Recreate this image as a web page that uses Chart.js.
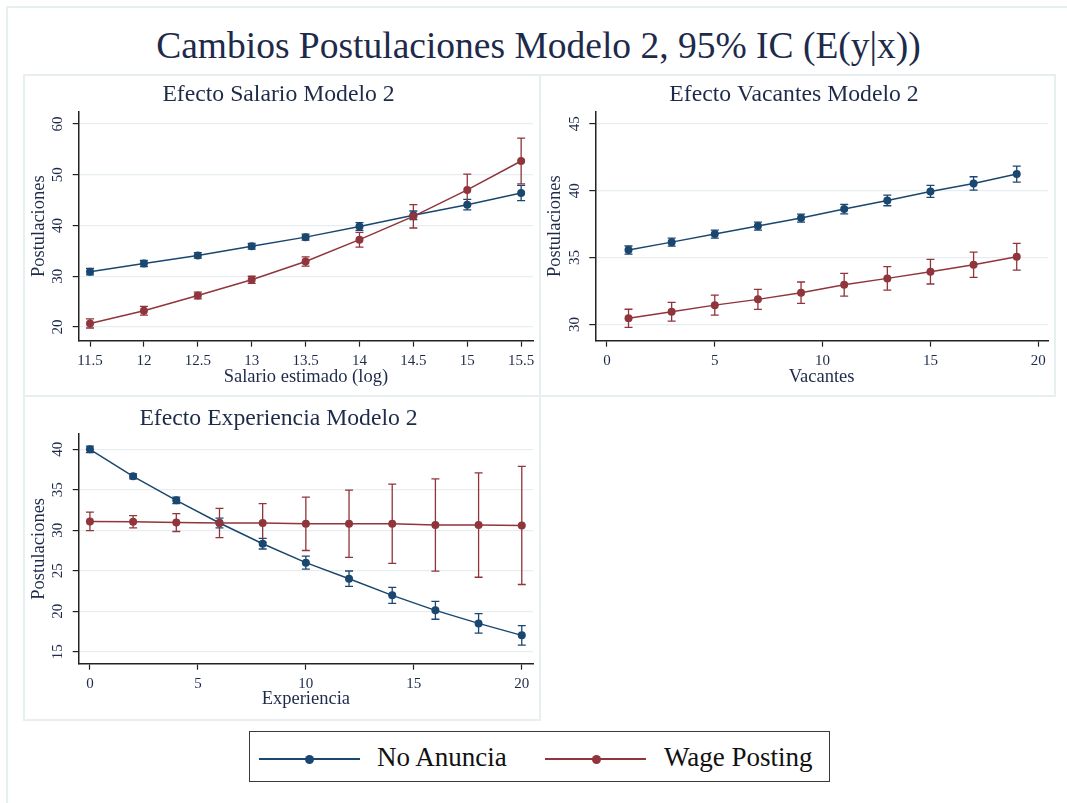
<!DOCTYPE html>
<html lang="es">
<head>
<meta charset="UTF-8">
<title>Cambios Postulaciones Modelo 2</title>
<script src="https://cdn.jsdelivr.net/npm/chart.js"></script>
<style>
    body {
        margin: 0;
        width: 1067px;
        height: 803px;
        background: #fff;
        position: relative;
        overflow: hidden;
        font-family: "Liberation Serif", "Times New Roman", serif;
    }
    .frame {
        position: absolute;
        box-sizing: border-box;
        border: 2px solid #e8eff1;
    }
    canvas { position: absolute; }
    #titulo {
        position: absolute;
        left: 0;
        width: 1077px;
        top: 26px;
        line-height: 40px;
        text-align: center;
        font-size: 37.5px;
        color: #1e2a4a;
        white-space: nowrap;
    }
    #leyenda {
        position: absolute;
        left: 249px;
        top: 731px;
        width: 581px;
        height: 51px;
        box-sizing: border-box;
        border: 1.5px solid #3a3a3a;
    }
    .ley-linea { position: absolute; height: 2px; top: 26px; }
    .ley-punto { position: absolute; width: 9px; height: 9px; border-radius: 50%; top: 22.5px; }
    .ley-texto { position: absolute; top: 5px; font-size: 27px; line-height: 40px; color: #111; white-space: nowrap; }
</style>
</head>
<body>
<div class="frame" style="left:6px; top:6px; width:1080px; height:820px;"></div>
<div class="frame" style="left:23px; top:74px; width:518px; height:323px;"></div>
<div class="frame" style="left:539px; top:74px; width:517px; height:323px;"></div>
<div class="frame" style="left:23px; top:395px; width:518px; height:326px;"></div>

<div id="titulo">Cambios Postulaciones Modelo 2, 95% IC (E(y|x))</div>

<canvas id="salario" width="516" height="320" style="left:24px; top:75px;"></canvas>
<canvas id="vacantes" width="515" height="320" style="left:540px; top:75px;"></canvas>
<canvas id="experiencia" width="516" height="324" style="left:24px; top:396px;"></canvas>

<div id="leyenda">
    <div class="ley-linea" style="left:9px; width:101px; background:#1a476f;"></div>
    <div class="ley-punto" style="left:55px; background:#1a476f;"></div>
    <div class="ley-texto" style="left:127px;">No Anuncia</div>
    <div class="ley-linea" style="left:295px; width:101px; background:#90353b;"></div>
    <div class="ley-punto" style="left:342px; background:#90353b;"></div>
    <div class="ley-texto" style="left:414px;">Wage Posting</div>
</div>

<script>
// Salario estimado (log)
const salarioX = [11.5, 12, 12.5, 13, 13.5, 14, 14.5, 15, 15.5];
const salarioNoAnuncia = [30.9, 32.5, 34.1, 35.9, 37.7, 39.8, 42.0, 44.1, 46.4];
const salarioNoAnunciaIC = [0.65, 0.6, 0.55, 0.55, 0.6, 0.75, 0.85, 1.05, 1.5];
const salarioWage = [20.7, 23.2, 26.2, 29.3, 32.9, 37.2, 41.8, 47.0, 52.7];
const salarioWageIC = [0.9, 0.85, 0.65, 0.7, 0.9, 1.45, 2.3, 3.1, 4.5];
const salarioTicksX = [11.5, 12, 12.5, 13, 13.5, 14, 14.5, 15, 15.5];
const salarioTicksY = [20, 30, 40, 50, 60];

// Vacantes
const vacantesX = [1, 3, 5, 7, 9, 11, 13, 15, 17, 19];
const vacantesNoAnuncia = [35.56, 36.15, 36.75, 37.35, 37.95, 38.62, 39.27, 39.94, 40.54, 41.24];
const vacantesNoAnunciaIC = [0.3, 0.3, 0.3, 0.3, 0.3, 0.35, 0.4, 0.45, 0.5, 0.6];
const vacantesWage = [30.45, 30.95, 31.44, 31.87, 32.37, 32.96, 33.44, 33.94, 34.46, 35.06];
const vacantesWageIC = [0.68, 0.7, 0.75, 0.75, 0.8, 0.85, 0.88, 0.92, 0.95, 1.0];
const vacantesTicksX = [0, 5, 10, 15, 20];
const vacantesTicksY = [30, 35, 40, 45];

// Experiencia
const experienciaX = [0, 2, 4, 6, 8, 10, 12, 14, 16, 18, 20];
const experienciaNoAnuncia = [40.0, 36.66, 33.7, 30.9, 28.34, 26.0, 24.02, 21.96, 20.11, 18.5, 17.02];
const experienciaNoAnunciaIC = [0.4, 0.3, 0.4, 0.6, 0.65, 0.8, 0.95, 1.0, 1.1, 1.2, 1.2];
const experienciaWage = [31.1, 31.05, 30.95, 30.9, 30.9, 30.8, 30.8, 30.8, 30.65, 30.65, 30.6];
const experienciaWageIC = [1.15, 0.75, 1.1, 1.8, 2.4, 3.3, 4.15, 4.9, 5.7, 6.45, 7.3];
const experienciaTicksX = [0, 5, 10, 15, 20];
const experienciaTicksY = [15, 20, 25, 30, 35, 40];

const AZUL = '#1a476f';
const ROJO = '#90353b';
const TEXTO = '#1e2a4a';
const EJE = '#222';
const GRILLA = '#e6eef1';
const SERIF = "'Liberation Serif', 'Times New Roman', serif";

// barras de intervalo de confianza (rcap)
const barrasIC = {
    id: 'barrasIC',
    beforeDatasetsDraw(chart) {
        const ctx = chart.ctx;
        const sx = chart.scales.x, sy = chart.scales.y;
        chart.data.datasets.forEach(ds => {
            if (!ds.ic) return;
            ctx.save();
            ctx.strokeStyle = ds.borderColor;
            ctx.lineWidth = 1.3;
            ds.data.forEach((p, j) => {
                const px = sx.getPixelForValue(p.x);
                const hi = sy.getPixelForValue(p.y + ds.ic[j]);
                const lo = sy.getPixelForValue(p.y - ds.ic[j]);
                ctx.beginPath();
                ctx.moveTo(px, hi); ctx.lineTo(px, lo);
                ctx.moveTo(px - 4, hi); ctx.lineTo(px + 4, hi);
                ctx.moveTo(px - 4, lo); ctx.lineTo(px + 4, lo);
                ctx.stroke();
            });
            ctx.restore();
        });
    }
};

function serie(label, xs, ys, ic, color, order) {
    return {
        label: label,
        data: xs.map((x, i) => ({ x: x, y: ys[i] })),
        ic: ic,
        borderColor: color,
        backgroundColor: color,
        borderWidth: 1.5,
        pointRadius: 4,
        pointBorderWidth: 0,
        pointBackgroundColor: color,
        tension: 0,
        order: order
    };
}

function panel(id, p) {
    return new Chart(document.getElementById(id), {
        type: 'line',
        data: {
            datasets: [
                serie('No Anuncia', p.x, p.azul, p.azulIC, AZUL, 1),
                serie('Wage Posting', p.x, p.rojo, p.rojoIC, ROJO, 0)
            ]
        },
        options: {
            responsive: false,
            animation: false,
            devicePixelRatio: 1,
            layout: { padding: { left: 0, right: 7, top: 0, bottom: 0 } },
            plugins: {
                legend: { display: false },
                tooltip: { enabled: false },
                title: {
                    display: true,
                    text: p.titulo,
                    color: TEXTO,
                    font: { family: SERIF, size: 23.7, weight: 'normal' },
                    padding: { top: p.tituloArriba, bottom: p.tituloAbajo }
                }
            },
            scales: {
                x: {
                    type: 'linear',
                    min: p.xMin,
                    max: p.xMax,
                    afterBuildTicks: s => { s.ticks = p.ticksX.map(v => ({ value: v })); },
                    afterFit: s => { s.height = p.altoX; },
                    grid: { drawOnChartArea: false, tickLength: 6, tickColor: EJE, tickWidth: 1.2 },
                    border: { color: EJE, width: 1.5 },
                    ticks: {
                        color: TEXTO, padding: 5, autoSkip: false, minRotation: 0, maxRotation: 0,
                        font: { family: SERIF, size: 15 },
                        callback: v => String(v)
                    },
                    title: {
                        display: true, text: p.etiquetaX, color: TEXTO,
                        font: { family: SERIF, size: 18.5 },
                        padding: { top: 0, bottom: p.etiquetaXAbajo }
                    }
                },
                y: {
                    type: 'linear',
                    min: p.yMin,
                    max: p.yMax,
                    afterBuildTicks: s => { s.ticks = p.ticksY.map(v => ({ value: v })); },
                    afterFit: s => { s.width = p.anchoY; },
                    grid: { color: GRILLA, lineWidth: 1.2, tickLength: 6, tickColor: EJE, tickWidth: 1.2 },
                    border: { color: EJE, width: 1.5 },
                    ticks: {
                        color: TEXTO, padding: 7, minRotation: 90, maxRotation: 90, crossAlign: 'center',
                        font: { family: SERIF, size: 15 },
                        callback: v => String(v)
                    },
                    title: {
                        display: true, text: 'Postulaciones', color: TEXTO,
                        font: { family: SERIF, size: 18.5 },
                        padding: { top: p.etiquetaYArriba, bottom: 0 }
                    }
                }
            }
        },
        plugins: [barrasIC]
    });
}

panel('salario', {
    titulo: 'Efecto Salario Modelo 2', etiquetaX: 'Salario estimado (log)',
    x: salarioX, azul: salarioNoAnuncia, azulIC: salarioNoAnunciaIC, rojo: salarioWage, rojoIC: salarioWageIC,
    ticksX: salarioTicksX, ticksY: salarioTicksY,
    xMin: 11.395, xMax: 15.61, yMin: 17.3, yMax: 62.4,
    tituloArriba: 5.8, tituloAbajo: 2.5, altoX: 54.3, etiquetaXAbajo: 7.2, anchoY: 54.7, etiquetaYArriba: 4
});

panel('vacantes', {
    titulo: 'Efecto Vacantes Modelo 2', etiquetaX: 'Vacantes',
    x: vacantesX, azul: vacantesNoAnuncia, azulIC: vacantesNoAnunciaIC, rojo: vacantesWage, rojoIC: vacantesWageIC,
    ticksX: vacantesTicksX, ticksY: vacantesTicksY,
    xMin: -0.54, xMax: 20.45, yMin: 28.78, yMax: 45.9,
    tituloArriba: 5.8, tituloAbajo: 2.5, altoX: 54.3, etiquetaXAbajo: 7.2, anchoY: 55.3, etiquetaYArriba: 4.5
});

panel('experiencia', {
    titulo: 'Efecto Experiencia Modelo 2', etiquetaX: 'Experiencia',
    x: experienciaX, azul: experienciaNoAnuncia, azulIC: experienciaNoAnunciaIC, rojo: experienciaWage, rojoIC: experienciaWageIC,
    ticksX: experienciaTicksX, ticksY: experienciaTicksY,
    xMin: -0.52, xMax: 20.52, yMin: 13.52, yMax: 41.9,
    tituloArriba: 8.5, tituloAbajo: 1.0, altoX: 56.3, etiquetaXAbajo: 9.9, anchoY: 54.7, etiquetaYArriba: 4
});
</script>
</body>
</html>
